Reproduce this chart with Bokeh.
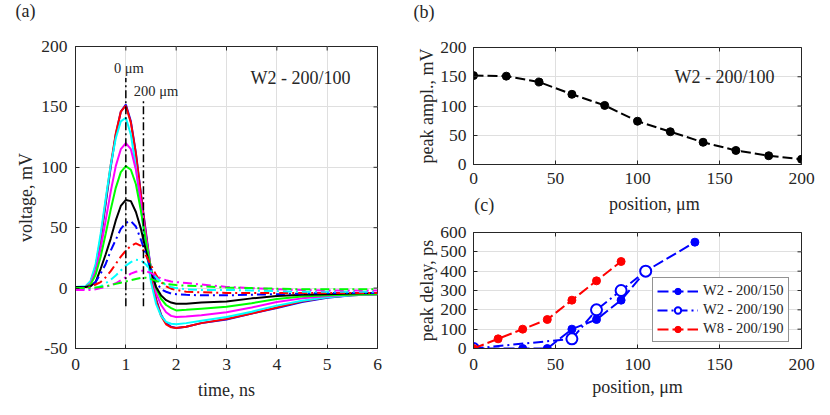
import math
from bokeh.plotting import figure
from bokeh.models import Label, FixedTicker, Range1d
from bokeh.layouts import row, column
from bokeh.embed import file_html
from bokeh.resources import INLINE

FONT = "Liberation Serif"
TXT = "#262626"
GRID = "#dfdfdf"

# ---------------- data: panel (a) waveforms ----------------
t_ns = [0, 0.2, 0.3, 0.4, 0.5, 0.6, 0.7, 0.8, 0.9, 1.0, 1.1, 1.2, 1.3, 1.4, 1.5, 1.6, 1.7, 1.8, 1.9,
        2.0, 2.2, 2.5, 3.0, 3.5, 4.0, 4.5, 5.0, 5.5, 6.0]
v_blue_s = [1, 1, 5, 17, 40, 70, 100, 127, 146, 152, 138, 112, 78, 46, 15, -9, -22, -29, -32,
            -33, -32, -29, -26, -21, -16.5, -11.5, -8, -6, -5]
v_red_s = [1, 1, 5, 18, 42, 72, 102, 128, 146, 151, 137, 111, 77, 44, 13, -10, -23, -30, -32.5,
           -33, -32, -29, -25.5, -21, -16, -11, -7.5, -6, -5]
v_cyan_s = [1, 1.5, 6, 20, 45, 74, 102, 124, 138, 141, 127, 100, 66, 33, 5, -13, -23, -28, -29.5,
            -30, -29, -27, -24, -19.5, -14.5, -10.5, -7.5, -6, -5]
v_magenta_s = [0.5, 1, 4, 14, 33, 56, 80, 101, 115, 120, 115, 98, 71, 42, 16, -4, -14, -20, -23,
               -24, -23.5, -22.5, -20, -16, -11.5, -8.5, -6.5, -5.5, -5]
v_green_s = [0.5, 1, 3, 11, 26, 45, 65, 83, 96, 101, 98, 86, 64, 39, 16, 0, -9, -14, -16.5,
             -18.5, -18, -17, -15.5, -12.5, -9, -7, -6, -5.5, -5]
v_black_s = [1, 1, 1.5, 5, 16, 28, 41, 56, 68, 73, 72, 63, 49, 31, 14, 1, -6, -10, -12,
             -13, -13, -12, -11, -8.5, -6.5, -5.5, -5, -4.5, -4]
v_blue_d = [0, 0.5, 1.5, 5, 12, 20, 31, 40, 49, 54, 55.5, 51, 40, 28, 16, 6, -1, -3, -4.5,
            -5, -5.5, -6, -6, -5.5, -5, -4.5, -4, -4, -4]
v_red_d = [-0.5, 0, 1, 3, 5, 9, 14, 20, 26, 31, 35, 37, 35, 27, 19, 11, 5, 1.5, -0.5,
           -1.5, -3, -3.5, -4, -4, -4, -4, -4, -4, -4]
v_cyan_d = [-1, -1, -0.5, 0, 1.5, 4, 7, 10.5, 14.5, 18.5, 21.5, 23.5, 23, 19.5, 14, 9, 5, 2.5, 1,
            0, -1, -1.5, -1.5, -2, -2.5, -3, -3, -3, -3]
v_magenta_d = [-1.5, -1.5, -1.5, -1, 0, 1, 2.5, 4, 6.5, 9, 12, 13.5, 14.5, 14, 12.5, 10, 8, 6.5, 5.5,
               5, 4.2, 3, 1, 0, -1, -1.5, -2, -2, -2]
v_green_d = [0, 0, 0, 0.5, 1, 1.5, 2.5, 3.5, 4.5, 5.5, 6.5, 7.5, 8.5, 8.5, 7.5, 6, 4.5, 3.5, 3,
             2.5, 2, 1.5, 0.5, 0, -0.5, -1, -1, -1, -1]

marker_t = [1.0, 1.35]
marker_top = [174, 155]
marker_bottom = [-15, -15]

# ---------------- data: panel (b) ----------------
pos_b = [0, 20, 40, 60, 80, 100, 120, 140, 160, 180, 200]
amp_b = [152, 151, 141, 120, 101, 74, 56, 38, 24, 15, 9]

# ---------------- data: panel (c) ----------------
pos_w2_150 = [0, 30, 45, 60, 75, 90, 105, 135]
del_w2_150 = [0, 0, 0, 100, 150, 250, 400, 550]
pos_w2_190 = [0, 60, 75, 90, 105]
del_w2_190 = [0, 50, 200, 300, 400]
pos_w8_190 = [0, 15, 30, 45, 60, 75, 90]
del_w8_190 = [0, 50, 100, 150, 250, 350, 450]

ticks_a_x = [0, 1, 2, 3, 4, 5, 6]
ticks_a_y = [-50, 0, 50, 100, 150, 200]
ticks_pos = [0, 50, 100, 150, 200]
ticks_b_y = [0, 50, 100, 150, 200]
ticks_c_y = [0, 100, 200, 300, 400, 500, 600]


def style(p, xt, yt, xlabel, ylabel, x_lso, x_std, y_lso, y_std):
    p.background_fill_color = "white"
    p.border_fill_color = "white"
    p.outline_line_color = TXT
    p.outline_line_width = 1
    p.xaxis.ticker = FixedTicker(ticks=xt)
    p.yaxis.ticker = FixedTicker(ticks=yt)
    p.xgrid.ticker = FixedTicker(ticks=xt)
    p.ygrid.ticker = FixedTicker(ticks=yt)
    p.grid.grid_line_color = GRID
    p.grid.grid_line_width = 1
    for ax in (p.xaxis[0], p.yaxis[0]):
        ax.major_tick_in = 4
        ax.major_tick_out = 0
        ax.minor_tick_in = 0
        ax.minor_tick_out = 0
        ax.axis_line_color = TXT
        ax.major_tick_line_color = TXT
        ax.major_label_text_font = FONT
        ax.major_label_text_font_size = "17.5px"
        ax.major_label_text_color = TXT
        ax.axis_label_text_font = FONT
        ax.axis_label_text_font_size = "18px"
        ax.axis_label_text_font_style = "normal"
        ax.axis_label_text_color = TXT
    if xlabel:
        p.xaxis[0].axis_label = xlabel
    p.yaxis[0].axis_label = ylabel
    p.xaxis[0].major_label_standoff = x_lso
    p.xaxis[0].axis_label_standoff = x_std
    p.yaxis[0].major_label_standoff = y_lso
    p.yaxis[0].axis_label_standoff = y_std
    p.yaxis[0].major_label_overrides = {t: str(t) for t in yt}
    # inward ticks on the top and right edges of the box (half of each dash is clipped away)
    xr, yr = p.x_range, p.y_range
    p.scatter(xt, [yr.end] * len(xt), marker="dash", angle=math.pi / 2, size=8,
              line_color=TXT, line_width=1)
    p.scatter([xr.end] * len(yt), yt, marker="dash", size=8, line_color=TXT, line_width=1)


def lab(p, text, x, y, size="18px", align="center"):
    p.add_layout(Label(x=x, y=y, text=text, text_font=FONT, text_font_size=size,
                       text_color=TXT, text_align=align, text_baseline="middle"))


def strip(w, h):
    s = figure(width=w, height=h, x_range=Range1d(0, w), y_range=Range1d(0, h),
               min_border=0, x_axis_location=None, y_axis_location=None,
               toolbar_location=None, output_backend="svg")
    s.grid.visible = False
    s.outline_line_color = None
    s.background_fill_color = "white"
    s.border_fill_color = "white"
    return s


# ---------------- top strip with panel letters ----------------
top = strip(820, 24)
lab(top, "(a)", 15, 14, align="left")
lab(top, "(b)", 413, 13, align="left")

# ---------------- panel (a) ----------------
pa = figure(frame_width=302, frame_height=302, output_backend="svg", toolbar_location=None,
            x_range=Range1d(0, 6), y_range=Range1d(-50, 200),
            min_border_left=75, min_border_right=35, min_border_top=22, min_border_bottom=59)
style(pa, ticks_a_x, ticks_a_y, "time, ns", "voltage, mV", 10, 7, 8, 2)

solid = [(v_blue_s, "#0000ff"), (v_red_s, "#ff0000"), (v_cyan_s, "#00ffff"),
         (v_magenta_s, "#ff00ff"), (v_green_s, "#00ff00"), (v_black_s, "#000000")]
dashed = [(v_blue_d, "#0000ff"), (v_red_d, "#ff0000"), (v_cyan_d, "#00ffff"),
          (v_magenta_d, "#ff00ff"), (v_green_d, "#00ff00")]
for v, c in solid:
    pa.line(t_ns, v, line_color=c, line_width=2)
for v, c in dashed:
    pa.line(t_ns, v, line_color=c, line_width=2, line_dash="9 4 2 4")
pa.segment(x0=marker_t, y0=marker_bottom, x1=marker_t, y1=marker_top,
           line_color="black", line_width=1.5, line_dash="8 3 2 3")

lab(pa, "0 μm", 1.06, 182, size="14.5px")
lab(pa, "200 μm", 1.6, 163, size="14.5px")
lab(pa, "W2 - 200/100", 4.47, 174)

# ---------------- panel (b) ----------------
pb = figure(frame_width=328, frame_height=117, output_backend="svg", toolbar_location=None,
            x_range=Range1d(0, 200), y_range=Range1d(0, 200),
            min_border_left=61, min_border_right=19, min_border_top=23, min_border_bottom=28)
style(pb, ticks_pos, ticks_b_y, None, "peak ampl., mV", 8, 0, 7, 0)
pb.line(pos_b, amp_b, line_color="black", line_width=2, line_dash="10 4")
pb.scatter(pos_b, amp_b, marker="circle", size=8, fill_color="black", line_color="black")
lab(pb, "W2 - 200/100", 153, 149)

# ---------------- strip: x label of (b) and letter (c) ----------------
mid = strip(408, 28)
lab(mid, "(c)", 1, 15.5, align="left")
lab(mid, "position, μm", 225, 16.5)

# ---------------- panel (c) ----------------
pc = figure(frame_width=328, frame_height=116, output_backend="svg", toolbar_location=None,
            x_range=Range1d(0, 200), y_range=Range1d(0, 600),
            min_border_left=61, min_border_right=19, min_border_top=12, min_border_bottom=59)
style(pc, ticks_pos, ticks_c_y, "position, μm", "peak delay, ps", 10, 4, 7, 0)

pc.line(pos_w2_150, del_w2_150, line_color="#0000ff", line_width=2, line_dash="11 4",
        legend_label="W2 - 200/150")
pc.scatter(pos_w2_150, del_w2_150, marker="circle", size=8, fill_color="#0000ff",
           line_color="#0000ff", legend_label="W2 - 200/150")
pc.line(pos_w2_190, del_w2_190, line_color="#0000ff", line_width=2, line_dash="10 4 2 4",
        legend_label="W2 - 200/190")
pc.scatter(pos_w2_190, del_w2_190, marker="circle", size=11, fill_color="white",
           line_color="#0000ff", line_width=2, legend_label="W2 - 200/190")
pc.line(pos_w8_190, del_w8_190, line_color="#ff0000", line_width=2, line_dash="11 4",
        legend_label="W8 - 200/190")
pc.scatter(pos_w8_190, del_w8_190, marker="circle", size=8, fill_color="#ff0000",
           line_color="#ff0000", legend_label="W8 - 200/190")

lg = pc.legend[0]
lg.location = (179, 6)
lg.margin = 0
lg.padding = 4
lg.spacing = 2
lg.glyph_width = 41
lg.glyph_height = 16
lg.label_height = 16
lg.label_standoff = 5
lg.label_text_font = FONT
lg.label_text_font_size = "14.5px"
lg.label_text_color = TXT
lg.border_line_color = TXT
lg.border_line_width = 1
lg.background_fill_color = "white"
lg.background_fill_alpha = 1

layout = column(top, row(pa, column(pb, mid, pc, spacing=0), spacing=0), spacing=0)
open("out.html", "w").write(file_html(layout, INLINE))
